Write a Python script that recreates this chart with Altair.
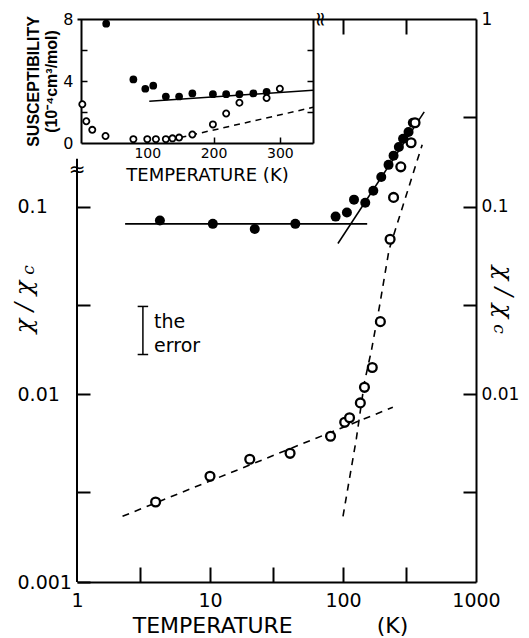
import altair as alt
import pandas as pd

# ---------------- data ----------------
# main log-log panel: chi / chi_c versus temperature (K)
fill_T = [4.2, 10.5, 21.7, 43.8, 88, 107, 121, 147, 169, 194, 220, 240, 263, 283, 311, 335]
fill_R = [0.0843, 0.081, 0.076, 0.081, 0.0885, 0.093, 0.109, 0.105, 0.1216, 0.144,
          0.167, 0.187, 0.208, 0.23, 0.25, 0.28]
open_T = [3.9, 10, 19.9, 40, 80.6, 103, 112, 135, 145, 166, 191, 226, 240, 272, 325, 348]
open_R = [0.00267, 0.00366, 0.00451, 0.00485, 0.00598, 0.0071, 0.0075, 0.009, 0.0109,
          0.0139, 0.0244, 0.067, 0.112, 0.163, 0.219, 0.28]

flat_T = [2.3, 152]
flat_R = [0.081, 0.081]
steep_T = [91.6, 408]
steep_R = [0.0636, 0.32]
lowdash_T = [2.2, 237]
lowdash_R = [0.00224, 0.00853]
stepdash_T = [100, 126, 145, 164, 188, 222, 394]
stepdash_R = [0.00224, 0.0058, 0.0116, 0.0173, 0.0294, 0.059, 0.214]

err_T = [3.13]
err_lo = [0.0163]
err_hi = [0.0294]
note_T = [3.8, 3.8]
note_R = [0.0244, 0.018]
note_text = ["the", "error"]

left_line_T = [1]
left_line_lo = [0.001]
left_line_hi = [0.18]
break_T = [1, 67]
break_R = [0.157, 1]
break_angle = [0, 90]

x_label_vals = [1, 10, 100, 1000]
x_tick_vals = [3, 10, 30, 100, 300]
x_top_tick_vals = [100, 300]
y_label_left = [0.001, 0.01, 0.1]
y_tick_left = [0.001, 0.003, 0.01, 0.03, 0.1]
y_label_right = [0.01, 0.1, 1]
y_tick_right = [0.003, 0.01, 0.03, 0.1, 0.3]
x_title = "TEMPERATURE" + "\u00a0" * 12 + "(K)"

# inset: susceptibility (1e-4 cm3/mol) versus temperature (K)
ins_fill_T = [38, 79, 97, 109, 128, 148, 168, 199, 219, 239, 260, 280]
ins_fill_S = [7.7, 4.1, 3.5, 3.7, 3.0, 3.0, 3.2, 3.15, 3.15, 3.15, 3.2, 3.3]
ins_open_T = [2, 8, 17, 37, 79, 100, 113, 128, 138, 148, 168, 199, 219, 239, 280, 300]
ins_open_S = [2.5, 1.4, 0.85, 0.45, 0.25, 0.25, 0.25, 0.25, 0.3, 0.35, 0.55, 1.2, 1.9,
              2.6, 2.9, 3.5]
ins_solid_T = [103, 350]
ins_solid_S = [2.7, 3.4]
ins_dash_T = [150, 350]
ins_dash_S = [0.35, 2.3]
ins_x_vals = [100, 200, 300]
ins_y_labels = [0, 4, 8]
ins_y_ticks = [2, 4, 6]

W, H = 399, 563


def ax(**kw):
    base = dict(grid=False, labelFlush=False, labelOverlap=False, domainColor="black",
                tickColor="black", labelColor="black", titleColor="black",
                labelFont="DejaVu Sans")
    base.update(kw)
    return alt.Axis(**base)


XM = alt.Scale(type="log", domain=[1, 1000], nice=False)
YM = alt.Scale(type="log", domain=[0.001, 1], nice=False)

df_fill = pd.DataFrame({"T": fill_T, "R": fill_R})
df_open = pd.DataFrame({"T": open_T, "R": open_R})
df_solid = pd.DataFrame({
    "T": flat_T + steep_T,
    "R": flat_R + steep_R,
    "seg": ["flat"] * len(flat_T) + ["steep"] * len(steep_T),
})
df_dash = pd.DataFrame({
    "T": lowdash_T + stepdash_T,
    "R": lowdash_R + stepdash_R,
    "seg": ["low"] * len(lowdash_T) + ["steep"] * len(stepdash_T),
})
df_err = pd.DataFrame({"T": err_T, "lo": err_lo, "hi": err_hi})
df_caps = pd.DataFrame({"T": err_T * 2, "R": err_lo + err_hi})
df_note = pd.DataFrame({"T": note_T, "R": note_R, "txt": note_text})
df_left = pd.DataFrame({"T": left_line_T, "lo": left_line_lo, "hi": left_line_hi})
df_break = pd.DataFrame({"T": break_T, "R": break_R, "ang": break_angle})

pts_fill = alt.Chart(df_fill).mark_circle(size=100, color="black", opacity=1).encode(
    x=alt.X("T:Q", scale=XM, axis=ax(
        orient="bottom", values=x_label_vals, labelExpr="format(datum.value, 'd')",
        ticks=False, tickSize=0, domain=True, domainWidth=2, labelFontSize=19,
        labelPadding=9, title=x_title, titleFont="DejaVu Sans", titleFontSize=22,
        titleFontWeight="normal", titleX=193, titleY=50, titleBaseline="alphabetic")),
    y=alt.Y("R:Q", scale=YM, axis=ax(
        orient="left", values=y_label_left, labelExpr="format(datum.value, '~g')",
        ticks=False, tickSize=0, domain=False, labelAlign="left", labelPadding=60,
        labelFontSize=19, title=None)),
)

pts_open = alt.Chart(df_open).mark_circle(
    size=78, fill="white", stroke="black", strokeWidth=2.3, opacity=1).encode(
    x=alt.X("T:Q", scale=XM, axis=ax(
        orient="top", offset=-H, values=x_tick_vals, tickSize=15, tickWidth=2,
        labels=False, domain=False, title=None)),
    y=alt.Y("R:Q", scale=YM, axis=ax(
        orient="right", offset=-W, values=y_tick_left, tickSize=13, tickWidth=2,
        labels=False, domain=False, title=None)),
)

solid = alt.Chart(df_solid).mark_line(color="black", strokeWidth=1.6).encode(
    x=alt.X("T:Q", scale=XM, axis=ax(
        orient="bottom", offset=-H, values=x_top_tick_vals, tickSize=15, tickWidth=2,
        labels=False, domain=True, domainWidth=2, title=None)),
    y=alt.Y("R:Q", scale=YM, axis=ax(
        orient="left", offset=-W, values=y_tick_right, tickSize=13, tickWidth=2,
        labels=False, domain=False, title=None)),
    detail="seg:N",
)

dashed = alt.Chart(df_dash).mark_line(color="black", strokeWidth=1.6, strokeDash=[7, 6]).encode(
    x=alt.X("T:Q", scale=XM, axis=None),
    y=alt.Y("R:Q", scale=YM, axis=ax(
        orient="right", values=y_label_right, labelExpr="format(datum.value, '~g')",
        ticks=False, tickSize=0, domain=True, domainWidth=2, labelPadding=5,
        labelFontSize=17, title=None)),
    detail="seg:N",
)

left_rule = alt.Chart(df_left).mark_rule(color="black", strokeWidth=2).encode(
    x=alt.X("T:Q", scale=XM, axis=None),
    y=alt.Y("lo:Q", scale=YM, axis=None),
    y2="hi:Q",
)

err_rule = alt.Chart(df_err).mark_rule(color="black", strokeWidth=1.5).encode(
    x=alt.X("T:Q", scale=XM, axis=None),
    y=alt.Y("lo:Q", scale=YM, axis=None),
    y2="hi:Q",
)
err_caps = alt.Chart(df_caps).mark_point(
    shape="M-1,0L1,0", size=110, filled=False, stroke="black", strokeWidth=1.5, opacity=1).encode(
    x=alt.X("T:Q", scale=XM, axis=None),
    y=alt.Y("R:Q", scale=YM, axis=None),
)
notes = alt.Chart(df_note).mark_text(
    align="left", baseline="middle", font="DejaVu Sans", fontSize=19, color="black").encode(
    x=alt.X("T:Q", scale=XM, axis=None),
    y=alt.Y("R:Q", scale=YM, axis=None),
    text="txt:N",
)
breaks = alt.Chart(df_break).mark_text(
    align="center", baseline="middle", font="DejaVu Sans", fontSize=20, color="black").encode(
    x=alt.X("T:Q", scale=XM, axis=None),
    y=alt.Y("R:Q", scale=YM, axis=None),
    angle=alt.Angle("ang:Q", scale=None),
    text=alt.value("\u2248"),
)

df_one = pd.DataFrame({"k": [0]})
lt_main = alt.Chart(df_one).mark_text(
    text="\u03c7 / \u03c7", angle=270, font="DejaVu Serif", fontStyle="italic",
    fontSize=24, color="black", align="center", baseline="middle").encode(
    x=alt.value(-52), y=alt.value(288))
lt_sub = alt.Chart(df_one).mark_text(
    text="c", angle=270, font="DejaVu Serif", fontStyle="italic",
    fontSize=17, color="black", align="center", baseline="middle").encode(
    x=alt.value(-48), y=alt.value(251))
rt_main = alt.Chart(df_one).mark_text(
    text="\u03c7 / \u03c7", angle=90, font="DejaVu Serif", fontStyle="italic",
    fontSize=24, color="black", align="center", baseline="middle").encode(
    x=alt.value(426), y=alt.value(273))
rt_sub = alt.Chart(df_one).mark_text(
    text="c", angle=90, font="DejaVu Serif", fontStyle="italic",
    fontSize=17, color="black", align="center", baseline="middle").encode(
    x=alt.value(422), y=alt.value(310))

main = alt.layer(
    left_rule, dashed, solid, pts_fill, pts_open, err_rule, err_caps, notes, breaks,
    lt_main, lt_sub, rt_main, rt_sub,
).resolve_axis(x="independent", y="independent")

# ---------------- inset ----------------
XI = alt.Scale(domain=[0, 350], range=[4, 236], nice=False, zero=False)
YI = alt.Scale(domain=[0, 8], range=[124, 0], nice=False, zero=False)

df_ifill = pd.DataFrame({"T": ins_fill_T, "S": ins_fill_S})
df_iopen = pd.DataFrame({"T": ins_open_T, "S": ins_open_S})
df_isolid = pd.DataFrame({"T": ins_solid_T, "S": ins_solid_S})
df_idash = pd.DataFrame({"T": ins_dash_T, "S": ins_dash_S})

i_solid = alt.Chart(df_isolid).mark_line(color="black", strokeWidth=1.5).encode(
    x=alt.X("T:Q", scale=XI, axis=None),
    y=alt.Y("S:Q", scale=YI, axis=ax(
        orient="left", offset=-236, values=ins_y_ticks, tickSize=6, tickWidth=1.5,
        labels=False, domain=True, domainWidth=2, title=None)),
)
i_dash = alt.Chart(df_idash).mark_line(color="black", strokeWidth=1.5, strokeDash=[6, 5]).encode(
    x=alt.X("T:Q", scale=XI, axis=None),
    y=alt.Y("S:Q", scale=YI, axis=None),
)
i_fill = alt.Chart(df_ifill).mark_circle(size=60, color="black", opacity=1).encode(
    x=alt.X("T:Q", scale=XI, axis=ax(
        orient="bottom", offset=-(H - 124), values=ins_x_vals, ticks=False, tickSize=0,
        domain=True, domainWidth=2, labelFontSize=14, labelPadding=3,
        title="TEMPERATURE (K)", titleFont="DejaVu Sans", titleFontSize=18,
        titleFontWeight="normal", titleX=130, titleY=37, titleBaseline="alphabetic")),
    y=alt.Y("S:Q", scale=YI, axis=ax(
        orient="left", offset=-4, values=ins_y_labels, ticks=False, tickSize=0,
        domain=True, domainWidth=2, labelFontSize=16, labelPadding=8,
        title=["SUSCEPTIBILITY", "(10\u207b\u2074cm\u00b3/mol)"],
        titleFont="Liberation Sans", titleFontWeight="bold", titleFontSize=16,
        titleLineHeight=18, titleX=-48, titleY=62, titleAngle=270,
        titleAlign="center", titleBaseline="middle")),
)
i_open = alt.Chart(df_iopen).mark_circle(
    size=38, fill="white", stroke="black", strokeWidth=1.8, opacity=1).encode(
    x=alt.X("T:Q", scale=XI, axis=ax(
        orient="top", offset=-124, values=ins_x_vals, tickSize=6, tickWidth=1.5,
        labels=False, domain=False, title=None)),
    y=alt.Y("S:Q", scale=YI, axis=ax(
        orient="right", offset=-(W - 4), values=ins_y_ticks, tickSize=6, tickWidth=1.5,
        labels=False, domain=False, title=None)),
)

inset = alt.layer(i_solid, i_dash, i_fill, i_open).resolve_axis(
    x="independent", y="independent")

chart = alt.layer(main, inset).resolve_scale(
    x="independent", y="independent"
).properties(
    width=W, height=H,
    padding={"left": 69, "top": 11, "right": 45, "bottom": 56},
    autosize=alt.AutoSizeParams(type="none"),
).configure_view(strokeWidth=0)

chart.save("out.html", embed_options={"renderer": "svg", "actions": False})
